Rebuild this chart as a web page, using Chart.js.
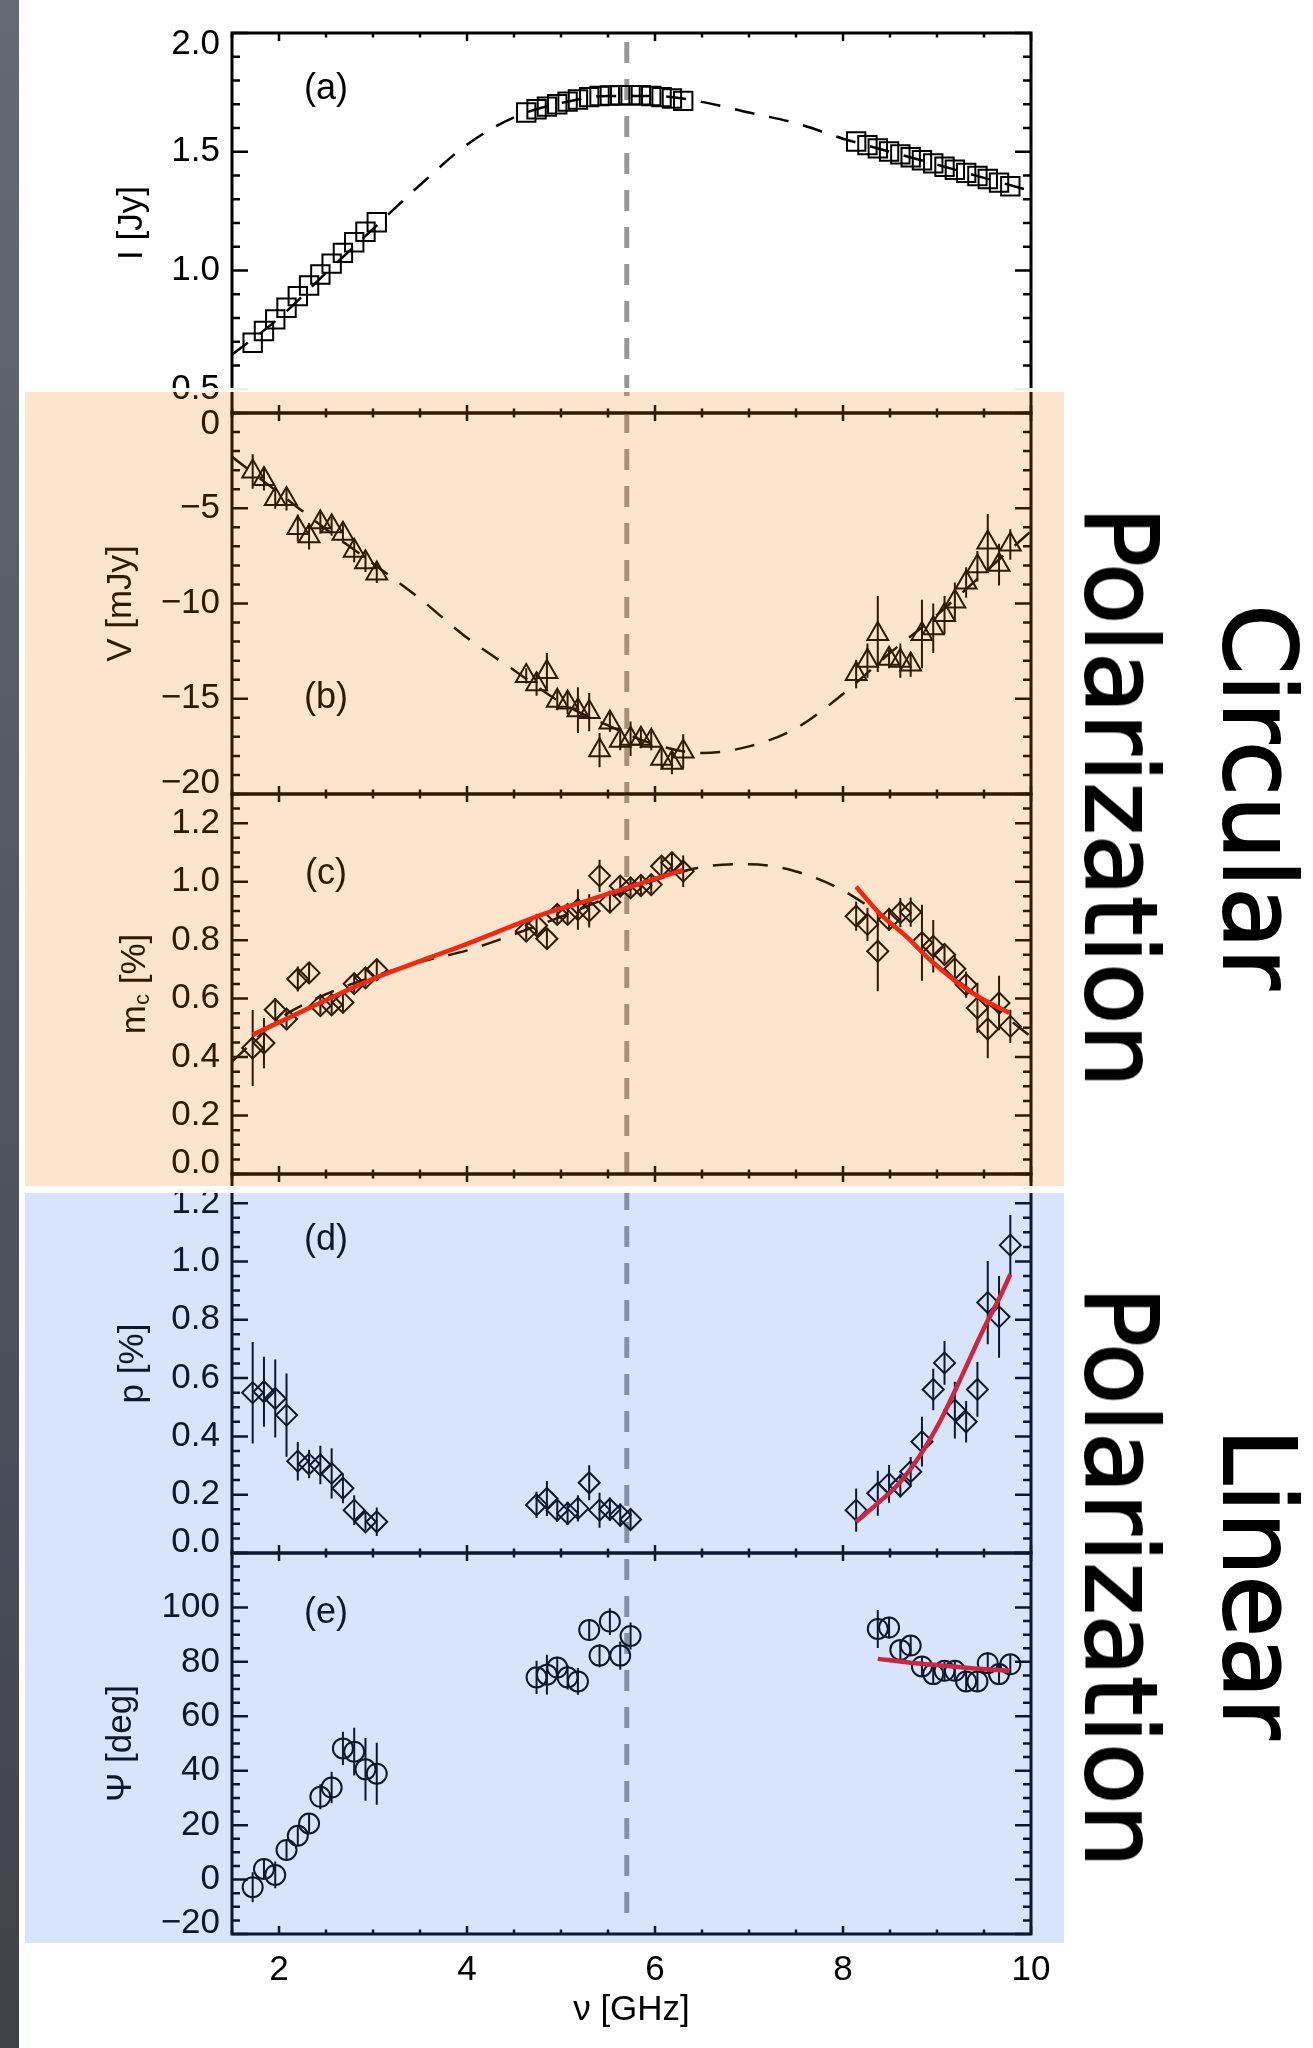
<!DOCTYPE html>
<html>
<head>
<meta charset="utf-8">
<script src="https://cdn.jsdelivr.net/npm/chart.js@4.4.1/dist/chart.umd.min.js"></script>
<style>
  html, body { margin: 0; padding: 0; background: #fff; }
  body { width: 1313px; height: 2048px; position: relative; overflow: hidden; font-family: "Liberation Sans", Arial, sans-serif; }
  #strip { position: absolute; left: 0; top: 0; width: 19px; height: 2048px; background: linear-gradient(#646a75, #3f4249); }
  canvas { position: absolute; left: 0; }
  .band { position: absolute; box-sizing: border-box; border: 4px solid rgba(255,255,255,0.92); background-clip: padding-box; pointer-events: none; }
  #circBand { left: 21px; top: 388px; width: 1047px; height: 802px; background-color: rgba(245,120,0,0.2); }
  #linBand  { left: 21px; top: 1189px; width: 1047px; height: 758px; background-color: rgba(60,115,240,0.2); }
  .side { position: absolute; font-family: "DejaVu Sans", sans-serif; font-size: 100px; line-height: 1; color: #000;
          white-space: nowrap; transform: translate(-50%, -50%) rotate(90deg); -webkit-text-stroke: 2px #000; }
</style>
</head>
<body>
<div id="strip"></div>
<canvas id="panelA" width="1100" height="460" style="top:-7px"></canvas>
<canvas id="panelB" width="1100" height="461" style="top:373px"></canvas>
<canvas id="panelC" width="1100" height="460" style="top:754px"></canvas>
<canvas id="panelD" width="1100" height="459" style="top:1134px"></canvas>
<canvas id="panelE" width="1100" height="535" style="top:1513px"></canvas>
<div id="circBand" class="band"></div>
<div id="linBand" class="band"></div>
<div class="side" style="left:1258px; top:797px;">Circular</div>
<div class="side" style="left:1120px; top:797px;">Polarization</div>
<div class="side" style="left:1258px; top:1584px;">Linear</div>
<div class="side" style="left:1120px; top:1577px;">Polarization</div>

<script>
// ---- observing frequencies (GHz) of the three bands ----
const freqLow  = [1.72, 1.84, 1.96, 2.08, 2.20, 2.32, 2.44, 2.56, 2.68, 2.80, 2.92, 3.04];
const freqMid  = [4.63, 4.74, 4.85, 4.96, 5.07, 5.18, 5.30, 5.41, 5.52, 5.63, 5.74, 5.85, 5.96, 6.07, 6.18, 6.30];
const freqHigh = [8.14, 8.26, 8.37, 8.49, 8.61, 8.72, 8.84, 8.96, 9.08, 9.19, 9.31, 9.43, 9.54, 9.66, 9.78];
const markerFreq = 5.7;

// ---- (a) total intensity I [Jy] ----
const iLow  = [0.696, 0.745, 0.794, 0.843, 0.892, 0.937, 0.983, 1.029, 1.074, 1.119, 1.163, 1.203];
const iMid  = [1.665, 1.679, 1.690, 1.700, 1.711, 1.720, 1.730, 1.735, 1.737, 1.738, 1.738, 1.738, 1.735, 1.730, 1.724, 1.714];
const iHigh = [1.543, 1.528, 1.514, 1.501, 1.489, 1.477, 1.464, 1.451, 1.437, 1.424, 1.411, 1.398, 1.385, 1.370, 1.355];

// ---- (b) circular polarization V [mJy] ----
const vLow     = [-3.07, -3.47, -4.52, -4.52, -6.04, -6.47, -5.74, -5.95, -6.34, -7.23, -7.84, -8.43];
const vLowErr  = [0.9, 0.6, 0.5, 0.6, 0.7, 0.7, 0.6, 0.5, 0.5, 0.6, 0.5, 0.5];
const vMid     = [-13.8, -14.24, -13.6, -15.1, -15.2, -15.6, -15.7, -17.7, -16.25, -17.2, -17.1, -17.1, -17.2, -18.15, -18.36, -17.77];
const vMidErr  = [0.4, 0.6, 1.0, 0.5, 0.6, 1.2, 1.0, 0.9, 0.5, 0.5, 0.9, 0.5, 0.5, 0.5, 0.6, 0.9];
const vHigh    = [-13.7, -13.0, -11.6, -12.9, -13.0, -13.2, -11.6, -11.3, -10.6, -9.9, -8.9, -8.05, -6.8, -7.96, -6.9];
const vHighErr = [0.75, 0.9, 2.0, 0.5, 0.9, 0.65, 1.8, 1.3, 1.0, 1.0, 0.8, 0.8, 1.5, 1.1, 0.8];

// ---- (c) fractional circular polarization m_c [%] ----
const mcLow     = [0.431, 0.448, 0.562, 0.530, 0.667, 0.688, 0.576, 0.579, 0.587, 0.651, 0.671, 0.699];
const mcLowErr  = [0.13, 0.086, 0.04, 0.03, 0.043, 0.037, 0.03, 0.03, 0.03, 0.03, 0.03, 0.035];
const mcMid     = [0.831, 0.850, 0.805, 0.888, 0.888, 0.905, 0.900, 1.020, 0.930, 0.985, 0.979, 0.987, 0.990, 1.053, 1.065, 1.036];
const mcMidErr  = [0.03, 0.03, 0.032, 0.03, 0.03, 0.069, 0.057, 0.055, 0.03, 0.03, 0.03, 0.03, 0.03, 0.03, 0.035, 0.054];
const mcHigh    = [0.882, 0.854, 0.762, 0.871, 0.894, 0.896, 0.791, 0.779, 0.751, 0.702, 0.648, 0.568, 0.496, 0.585, 0.505];
const mcHighErr = [0.05, 0.057, 0.137, 0.04, 0.05, 0.05, 0.13, 0.09, 0.03, 0.05, 0.045, 0.086, 0.1, 0.093, 0.057];

// ---- (d) fractional linear polarization p [%] ----
const pLow     = [0.550, 0.553, 0.530, 0.473, 0.315, 0.305, 0.302, 0.273, 0.222, 0.147, 0.107, 0.107];
const pLowErr  = [0.174, 0.12, 0.134, 0.143, 0.066, 0.049, 0.066, 0.086, 0.051, 0.051, 0.03, 0.049];
const pMid     = [null, 0.165, 0.187, 0.147, 0.136, 0.153, 0.241, 0.147, 0.150, 0.130, 0.115, null, null, null, null, null];
const pMidErr  = [null, 0.045, 0.06, 0.04, 0.04, 0.045, 0.06, 0.06, 0.04, 0.04, 0.035, null, null, null, null, null];
const pHigh    = [0.147, null, 0.205, 0.237, 0.230, 0.279, 0.382, 0.561, 0.652, 0.490, 0.450, 0.561, 0.859, 0.810, 1.056];
const pHighErr = [0.074, null, 0.077, 0.065, 0.04, 0.05, 0.085, 0.071, 0.075, 0.097, 0.071, 0.094, 0.143, 0.14, 0.103];

// ---- (e) polarization angle Psi [deg] ----
const psiLow     = [-2.8, 3.9, 1.7, 10.9, 16.1, 20.6, 30.4, 33.8, 48.2, 47.0, 40.5, 38.9];
const psiLowErr  = [5.5, 3.5, 4.9, 3.5, 3.5, 3.5, 4.6, 5.8, 6.1, 8.8, 11.5, 11.4];
const psiMid     = [null, 74.3, 75.3, 77.9, 74.3, 72.8, 91.7, 82.3, 94.8, 82.3, 89.5, null, null, null, null, null];
const psiMidErr  = [null, 6.1, 7.3, 4.0, 4.5, 4.9, 4.0, 4.3, 4.9, 5.2, 5.0, null, null, null, null, null];
const psiHigh    = [null, null, 92.1, 92.6, 84.4, 86.0, 78.3, 75.5, 76.7, 76.7, 72.8, 72.8, 79.5, 75.5, 79.1];
const psiHighErr = [null, null, 7.0, 4.0, 3.5, 3.5, 3.5, 3.5, 3.5, 3.5, 3.5, 3.5, 4.0, 3.5, 3.5];

// ---- model spectra (dashed) ----
const modelFreq = [1.5, 2.0, 2.5, 3.0, 3.5, 4.0, 4.5, 5.0, 5.5, 6.0, 6.5, 7.0, 7.5, 8.0, 8.5, 9.0, 9.5, 10.0];
const modelI    = [0.645, 0.80, 0.99, 1.175, 1.36, 1.53, 1.645, 1.705, 1.735, 1.735, 1.71, 1.665, 1.62, 1.555, 1.50, 1.446, 1.39, 1.335];
const modelV    = [-2.3, -4.2, -6.1, -7.9, -9.75, -11.8, -13.5, -15.2, -16.4, -17.4, -17.85, -17.5, -16.55, -14.75, -12.6, -10.6, -8.4, -6.2];
const modelMc   = [0.385, 0.53, 0.615, 0.675, 0.725, 0.765, 0.82, 0.88, 0.945, 1.005, 1.05, 1.06, 1.035, 0.97, 0.86, 0.715, 0.595, 0.47];

// ---- power-law fits (red) ----
const fitMcLowFreq  = [1.72, 2.17, 2.60, 3.06, 3.50, 3.96, 4.40, 4.85, 5.30, 5.70, 6.30];
const fitMcLow      = [0.476, 0.545, 0.610, 0.675, 0.728, 0.782, 0.838, 0.893, 0.937, 0.979, 1.040];
const fitMcHighFreq = [8.14, 8.40, 8.67, 8.94, 9.22, 9.49, 9.77];
const fitMcHigh     = [0.983, 0.888, 0.814, 0.728, 0.654, 0.597, 0.551];
const fitPFreq      = [8.14, 8.35, 8.58, 8.81, 9.04, 9.26, 9.49, 9.68, 9.78];
const fitP          = [0.107, 0.165, 0.233, 0.330, 0.456, 0.604, 0.765, 0.885, 0.956];
const fitPsiFreq    = [8.37, 8.70, 9.04, 9.40, 9.77];
const fitPsi        = [81.1, 79.8, 78.7, 77.6, 76.7];

// ---- axis ticks ----
const xTicks   = [2, 4, 6, 8, 10];
const iTicks   = [0.5, 1.0, 1.5, 2.0];
const vTicks   = [-20, -15, -10, -5, 0];
const mcTicks  = [0.0, 0.2, 0.4, 0.6, 0.8, 1.0, 1.2];
const pTicks   = [0.0, 0.2, 0.4, 0.6, 0.8, 1.0, 1.2];
const psiTicks = [-20, 0, 20, 40, 60, 80, 100];

// ---------------------------------------------------------------
const FONT = 'Liberation Sans';
const INK = '#000';
const RED = '#f01414';
const PAD = 40;   // room above and below each plot box inside its canvas

const pts = (xs, ys) => xs.map((x, i) => ({ x, y: ys[i] })).filter(p => p.y !== null);
const bars = (xs, ys, es) => xs.flatMap((x, i) => ys[i] === null ? [] :
  [{ x, y: ys[i] - es[i] }, { x, y: ys[i] + es[i] }, { x, y: null }]);

const markers = (data, style, radius) => ({
  data, pointStyle: style, pointRadius: radius, pointBorderWidth: 2,
  pointBorderColor: INK, pointBackgroundColor: 'rgba(0,0,0,0)', showLine: false, order: 3
});
const errorBars = (data) => ({
  data, showLine: true, spanGaps: false, borderColor: INK, borderWidth: 2, pointRadius: 0, order: 4
});
const dashed = (data) => ({
  data, showLine: true, borderColor: INK, borderWidth: 2.5, borderDash: [20, 15],
  pointRadius: 0, cubicInterpolationMode: 'monotone', order: 2
});
const fitLine = (data) => ({
  data, showLine: true, borderColor: RED, borderWidth: 4.5, pointRadius: 0,
  cubicInterpolationMode: 'monotone', order: 1
});

const minus = s => s.replace('-', '\u2212');

// IDL-style frame: inward ticks on all four sides, panel tag, marker line
function tickMarks(ctx, scale, minor, major, horizontal, a, lMaj, lMin) {
  const n0 = Math.ceil(scale.min / minor - 1e-6), n1 = Math.floor(scale.max / minor + 1e-6);
  for (let n = n0; n <= n1; n++) {
    const v = n * minor, r = v / major;
    const len = Math.abs(r - Math.round(r)) < 1e-6 ? lMaj : lMin;
    const p = scale.getPixelForValue(v);
    if (horizontal) {
      ctx.moveTo(p, a.bottom); ctx.lineTo(p, a.bottom - len);
      ctx.moveTo(p, a.top);    ctx.lineTo(p, a.top + len);
    } else {
      ctx.moveTo(a.left, p);  ctx.lineTo(a.left + len, p);
      ctx.moveTo(a.right, p); ctx.lineTo(a.right - len, p);
    }
  }
}

const idlFrame = {
  id: 'idlFrame',
  beforeDatasetsDraw(chart, args, o) {
    const { ctx, chartArea: a, scales: { x } } = chart;
    const px = x.getPixelForValue(markerFreq);
    const y0 = a.top + o.markFrom, y1 = a.bottom + o.markTo;
    ctx.save();
    ctx.strokeStyle = '#979797';
    ctx.lineWidth = 5;
    ctx.setLineDash([21, 16]);
    ctx.lineDashOffset = o.pageTop + y0 - 42;
    ctx.beginPath(); ctx.moveTo(px, y0); ctx.lineTo(px, y1); ctx.stroke();
    ctx.restore();
  },
  afterDraw(chart, args, o) {
    const { ctx, chartArea: a, scales: { x, y } } = chart;
    ctx.save();
    ctx.strokeStyle = INK;
    ctx.lineWidth = 2.5;
    ctx.beginPath();
    tickMarks(ctx, x, 0.5, 2, true, a, 8, 4.5);
    tickMarks(ctx, y, o.yMinor, o.yMajor, false, a, 16, 8);
    ctx.stroke();
    ctx.lineWidth = 3;
    ctx.strokeRect(a.left, a.top, a.right - a.left, a.bottom - a.top);

    ctx.fillStyle = INK;
    ctx.font = '36px "' + FONT + '"';
    ctx.textAlign = 'center';
    ctx.textBaseline = 'middle';
    ctx.fillText(o.tag, a.left + 94, a.top + o.tagDy);

    if (o.subTitle) {
      // m with a subscript c, rotated like the other axis titles
      const big = '35px "' + FONT + '"', small = '22px "' + FONT + '"';
      ctx.font = big;   const wm = ctx.measureText('m').width, wr = ctx.measureText(' [%]').width;
      ctx.font = small; const wc = ctx.measureText('c').width;
      const total = wm + wc + wr;
      ctx.translate(135, (a.top + a.bottom) / 2);
      ctx.rotate(-Math.PI / 2);
      ctx.textAlign = 'left';
      ctx.font = big;   ctx.fillText('m', -total / 2, 0);
      ctx.font = small; ctx.fillText('c', -total / 2 + wm, 8);
      ctx.font = big;   ctx.fillText(' [%]', -total / 2 + wm + wc, 0);
    }
    ctx.restore();
  }
};

function panel(id, p) {
  const showX = !!p.showX;
  return new Chart(document.getElementById(id), {
    type: 'scatter',
    data: { datasets: p.datasets },
    options: {
      animation: false, responsive: false, devicePixelRatio: 1,
      layout: { padding: { left: 0, right: 69, top: PAD, bottom: showX ? 0 : PAD } },
      plugins: {
        legend: { display: false }, tooltip: { enabled: false },
        idlFrame: { tag: p.tag, tagDy: p.tagDy, yMinor: p.yMinor, yMajor: p.yMajor,
                    markFrom: p.markFrom, markTo: p.markTo, pageTop: p.pageTop, subTitle: !!p.subTitle }
      },
      scales: {
        x: {
          type: 'linear', min: 1.5, max: 10, display: showX,
          afterBuildTicks: s => { s.ticks = xTicks.map(v => ({ value: v })); },
          afterFit: s => { s.height = showX ? 114 : 0; },
          grid: { display: false, drawTicks: false }, border: { display: false },
          ticks: { font: { family: FONT, size: 35 }, color: INK, padding: 15, autoSkip: false,
                   maxRotation: 0, callback: v => String(v) },
          title: { display: true, text: 'ν [GHz]', color: INK, font: { family: FONT, size: 35 },
                   padding: { top: 0, bottom: 17 } }
        },
        y: {
          type: 'linear', min: p.min, max: p.max,
          afterBuildTicks: s => { s.ticks = p.ticks.map(v => ({ value: v })); },
          afterFit: s => { s.width = 232; },
          grid: { display: false, drawTicks: false }, border: { display: false },
          ticks: {
            font: { family: FONT, size: 35, lineHeight: '22px' }, color: INK, padding: 12, autoSkip: false,
            callback: function (v) {
              const s = p.fmt(v);
              if (Math.abs(v - this.max) < 1e-9) return ['', s];
              if (Math.abs(v - this.min) < 1e-9) return [s, ''];
              return s;
            }
          },
          title: { display: !!p.title, text: p.title || '', color: INK, font: { family: FONT, size: 35 },
                   padding: { top: p.titlePad || 0, bottom: 0 } }
        }
      }
    },
    plugins: [idlFrame]
  });
}

const fmt1 = v => v.toFixed(1);
const fmtInt = v => minus(String(Math.round(v)));

panel('panelA', {
  pageTop: -7, min: 0.4, max: 2.0, ticks: iTicks, fmt: fmt1, yMinor: 0.1, yMajor: 0.5,
  title: 'I [Jy]', titlePad: 111, tag: '(a)', tagDy: 56, markFrom: 9, markTo: 0,
  datasets: [
    dashed(pts(modelFreq, modelI)),
    markers([...pts(freqLow, iLow), ...pts(freqMid, iMid), ...pts(freqHigh, iHigh)], 'rect', 13)
  ]
});

panel('panelB', {
  pageTop: 373, min: -20, max: 0, ticks: vTicks, fmt: fmtInt, yMinor: 1, yMajor: 5,
  title: 'V [mJy]', titlePad: 100, tag: '(b)', tagDy: 285, markFrom: -25, markTo: 0,
  datasets: [
    dashed(pts(modelFreq, modelV)),
    markers([...pts(freqLow, vLow), ...pts(freqMid, vMid), ...pts(freqHigh, vHigh)], 'triangle', 12),
    errorBars([...bars(freqLow, vLow, vLowErr), ...bars(freqMid, vMid, vMidErr), ...bars(freqHigh, vHigh, vHighErr)])
  ]
});

panel('panelC', {
  pageTop: 754, min: 0, max: 1.3, ticks: mcTicks, fmt: fmt1, yMinor: 0.05, yMajor: 0.2,
  subTitle: true, tag: '(c)', tagDy: 80, markFrom: 0, markTo: 13,
  datasets: [
    fitLine(pts(fitMcLowFreq, fitMcLow)),
    fitLine(pts(fitMcHighFreq, fitMcHigh)),
    dashed(pts(modelFreq, modelMc)),
    markers([...pts(freqLow, mcLow), ...pts(freqMid, mcMid), ...pts(freqHigh, mcHigh)], 'rectRot', 10.5),
    errorBars([...bars(freqLow, mcLow, mcLowErr), ...bars(freqMid, mcMid, mcMidErr), ...bars(freqHigh, mcHigh, mcHighErr)])
  ]
});

panel('panelD', {
  pageTop: 1134, min: 0, max: 1.3, ticks: pTicks, fmt: fmt1, yMinor: 0.05, yMajor: 0.2,
  title: 'p [%]', titlePad: 112, tag: '(d)', tagDy: 66, markFrom: 0, markTo: 0,
  datasets: [
    fitLine(pts(fitPFreq, fitP)),
    markers([...pts(freqLow, pLow), ...pts(freqMid, pMid), ...pts(freqHigh, pHigh)], 'rectRot', 10.5),
    errorBars([...bars(freqLow, pLow, pLowErr), ...bars(freqMid, pMid, pMidErr), ...bars(freqHigh, pHigh, pHighErr)])
  ]
});

panel('panelE', {
  pageTop: 1513, min: -20, max: 120, ticks: psiTicks, fmt: fmtInt, yMinor: 5, yMajor: 20,
  title: 'Ψ [deg]', titlePad: 100, tag: '(e)', tagDy: 60, markFrom: 0, markTo: -6, showX: true,
  datasets: [
    fitLine(pts(fitPsiFreq, fitPsi)),
    markers([...pts(freqLow, psiLow), ...pts(freqMid, psiMid), ...pts(freqHigh, psiHigh)], 'circle', 10),
    errorBars([...bars(freqLow, psiLow, psiLowErr), ...bars(freqMid, psiMid, psiMidErr), ...bars(freqHigh, psiHigh, psiHighErr)])
  ]
});
</script>
</body>
</html>
